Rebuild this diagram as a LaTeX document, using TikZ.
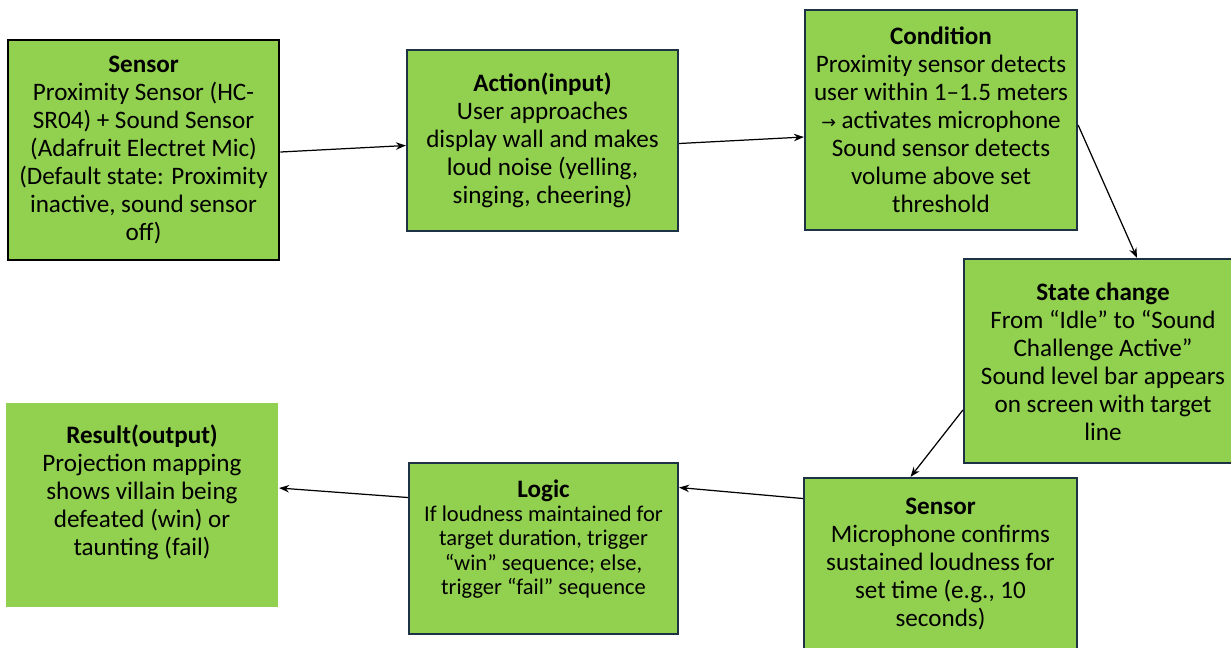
\documentclass[tikz,border=0pt]{standalone}
\usepackage{fontspec}
\setmainfont{Carlito}
\newfontfamily\symfont{DejaVu Sans}
\usetikzlibrary{arrows.meta}
\definecolor{boxgreen}{HTML}{92D050}
\definecolor{boxedge}{HTML}{1E3246}
\tikzset{
  box/.style={draw=boxedge, line width=1.3pt, fill=boxgreen, rectangle, inner sep=0pt},
  txt/.style={align=center, font=\fontsize{14.3}{15.9}\selectfont, inner sep=0pt},
  smalltxt/.style={align=center, font=\fontsize{12.8}{13.9}\selectfont, inner sep=0pt},
  arr/.style={-{Stealth[length=2mm,width=1.5mm]}, line width=0.7pt, black}
}
\begin{document}
\begin{tikzpicture}[x=0.02cm,y=-0.02cm]
\useasboundingbox (0,0) rectangle (1231,647);
\clip (0,0) rectangle (1231,647);
% boxes
\node[box, draw=black, line width=1.6pt, minimum width=5.42cm, minimum height=4.4cm] (s1) at (143.5,150) {};
\node[box, minimum width=5.42cm, minimum height=3.62cm] (act) at (542.5,140.5) {};
\node[box, minimum width=5.44cm, minimum height=4.4cm] (cond) at (941,120) {};
\node[box, minimum width=5.44cm, minimum height=4.08cm] (state) at (1100,361) {};
\node[box, minimum width=5.46cm, minimum height=3.5cm] (s2) at (940.5,565.5) {};
\node[box, minimum width=5.38cm, minimum height=3.42cm] (logic) at (543.5,548.5) {};
\node[box, draw=none, minimum width=5.44cm, minimum height=4.08cm] (res) at (142,505) {};
% texts
\node[txt] (t1) at (143.5,150) {\textbf{Sensor}\\Proximity Sensor (HC-\\SR04) + Sound Sensor\\(Adafruit Electret Mic)\\(Default state: Proximity\\inactive, sound sensor\\off)};
\node[txt] (t2) at (542.5,140) {\textbf{Action(input)}\\User approaches\\display wall and makes\\loud noise (yelling,\\singing, cheering)};
\node[txt] (t3) at (941,120) {\textbf{Condition}\\Proximity sensor detects\\user within 1–1.5 meters\\{\symfont\fontsize{10}{12}\selectfont →} activates microphone\\Sound sensor detects\\volume above set\\threshold};
\node[txt] (t4) at (1103,362) {\textbf{State change}\\From “Idle” to “Sound\\Challenge Active”\\Sound level bar appears\\on screen with target\\line};
\node[txt] (t5) at (940.5,564) {\textbf{Sensor}\\Microphone confirms\\sustained loudness for\\set time (e.g., 10\\seconds)};
\node[smalltxt] (t6) at (543.5,539) {\textbf{\fontsize{14.3}{15}\selectfont Logic}\\If loudness maintained for\\target duration, trigger\\“win” sequence; else,\\trigger “fail” sequence};
\node[txt] (t7) at (142,492) {\textbf{Result(output)}\\Projection mapping\\shows villain being\\defeated (win) or\\taunting (fail)};
% connectors
\draw[arr] ([yshift=-0.04cm]s1.east) -- ([yshift=-0.1cm]act.west);
\draw[arr] ([yshift=-0.06cm]act.east) -- ([yshift=-0.34cm]cond.west);
\draw[arr] ([yshift=-0.1cm]cond.east) -- ([xshift=0.74cm]state.north);
\draw[arr] ([yshift=-0.98cm]state.west) -- ([xshift=-0.6cm]s2.north);
\draw[arr] ([yshift=1.34cm]s2.west) -- ([yshift=1.22cm]logic.east);
\draw[arr] ([yshift=1.02cm]logic.west) -- ([yshift=0.34cm]res.east);
\end{tikzpicture}
\end{document}
